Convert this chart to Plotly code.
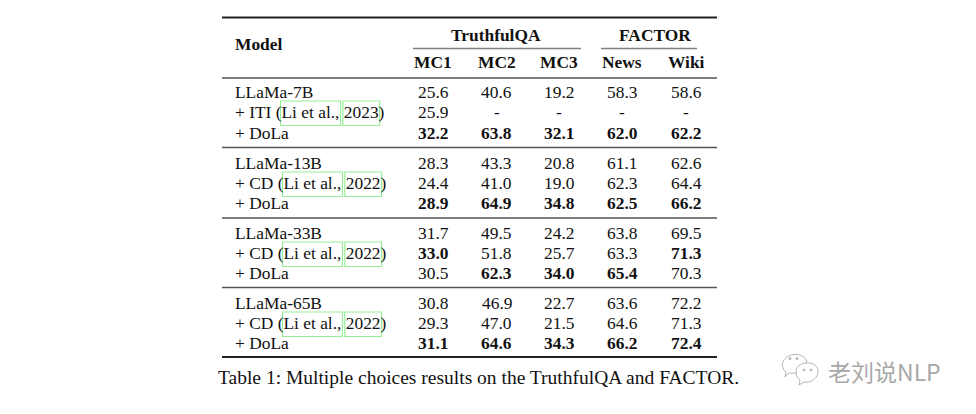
import plotly.graph_objects as go

# ---------------- data ----------------
row_labels = ["LLaMa-7B", "+ ITI (", "+ DoLa",
              "LLaMa-13B", "+ CD (", "+ DoLa",
              "LLaMa-33B", "+ CD (", "+ DoLa",
              "LLaMa-65B", "+ CD (", "+ DoLa"]
cite_years = [None, "2023", None,
              None, "2022", None,
              None, "2022", None,
              None, "2022", None]
cite_author = "Li et al.,"
group_of_row = [0, 0, 0, 1, 1, 1, 2, 2, 2, 3, 3, 3]

columns = ["MC1", "MC2", "MC3", "News", "Wiki"]
mc1 = [25.6, 25.9, 32.2, 28.3, 24.4, 28.9, 31.7, 33.0, 30.5, 30.8, 29.3, 31.1]
mc2 = [40.6, None, 63.8, 43.3, 41.0, 64.9, 49.5, 51.8, 62.3, 46.9, 47.0, 64.6]
mc3 = [19.2, None, 32.1, 20.8, 19.0, 34.8, 24.2, 25.7, 34.0, 22.7, 21.5, 34.3]
news = [58.3, None, 62.0, 61.1, 62.3, 62.5, 63.8, 63.3, 65.4, 63.6, 64.6, 66.2]
wiki = [58.6, None, 62.2, 62.6, 64.4, 66.2, 69.5, 71.3, 70.3, 72.2, 71.3, 72.4]
super_headers = ["TruthfulQA", "FACTOR"]
caption = "Table 1: Multiple choices results on the TruthfulQA and FACTOR."
watermark = "老刘说NLP"

# ---------------- layout constants ----------------
W, H = 976, 414
OFF = 8            # default page body margin
FONT = "Liberation Serif"
FS = 17.4
BLACK = "#111111"
PAD = 2            # annotation inner padding
x_left, x_right = 222, 717
x_label = 235
col_x = [433, 496.5, 559, 622, 686]
row_y = [92, 112, 132.5, 163, 183, 203, 233, 253, 273, 303, 323, 342.5]

# Times metrics (Liberation Serif is metric compatible)
TW = {" ": 250, "+": 564, "(": 333, ")": 333, "I": 333, "T": 611, "C": 667, "D": 722,
      "L": 611, "i": 278, "e": 444, "t": 278, "a": 444, "l": 278, ".": 250, ",": 250,
      "0": 500, "1": 500, "2": 500, "3": 500}


def tw(s, size=FS):
    return sum(TW.get(c, 500) for c in s) * size / 1000.0


fig = go.Figure()
fig.add_trace(go.Scatter(x=[OFF, W], y=[OFF, H], mode="markers", marker=dict(opacity=0),
                         hoverinfo="skip", showlegend=False))

ann = []


def txt(x, y, s, anchor="center", size=FS, color=BLACK, family=FONT):
    if anchor == "left":
        x -= PAD
    elif anchor == "right":
        x += PAD
    ann.append(dict(x=x, y=y, text=s, showarrow=False, xanchor=anchor, yanchor="middle",
                    font=dict(family=family, size=size, color=color), xref="x", yref="y"))


# headers
txt(x_label, 43.5, "<b>Model</b>", anchor="left")
txt((col_x[0] + col_x[2]) / 2, 35, "<b>%s</b>" % super_headers[0])
txt((col_x[3] + col_x[4]) / 2 + 1, 35, "<b>%s</b>" % super_headers[1])
for cx, name in zip(col_x, columns):
    txt(cx, 62, "<b>%s</b>" % name)

# body
series = [mc1, mc2, mc3, news, wiki]
shapes = []
for r, label in enumerate(row_labels):
    y = row_y[r]
    if cite_years[r] is None:
        txt(x_label, y, label, anchor="left")
    else:
        year = cite_years[r]
        full = label + cite_author + " " + year + ")"
        txt(x_label, y, full, anchor="left")
        a0 = x_label + tw(label)
        a1 = a0 + tw(cite_author)
        b0 = a1 + tw(" ")
        b1 = b0 + tw(year)
        for (u0, u1) in [(a0, a1), (b0, b1)]:
            shapes.append(dict(type="rect", xref="x", yref="y", x0=u0 - 1, x1=u1 + 1,
                               y0=y - 11, y1=y + 13.5,
                               line=dict(color="#98ee98", width=1.2), fillcolor="rgba(0,0,0,0)"))
    g = group_of_row[r]
    for c, vals in enumerate(series):
        v = vals[r]
        if v is None:
            txt(col_x[c], y, "-")
            continue
        grp = [vals[i] for i in range(len(vals)) if group_of_row[i] == g and vals[i] is not None]
        s = "%.1f" % v
        if v == max(grp):
            s = "<b>%s</b>" % s
        txt(col_x[c], y, s)

# caption
txt(739, 377, caption, anchor="right", size=19.5)

# watermark text
txt(828, 371, watermark, anchor="left", size=23, color="#a8a8a8", family="Noto Sans CJK SC")


# rules
def hline(y, x0, x1, w, color):
    shapes.append(dict(type="line", xref="x", yref="y", x0=x0, x1=x1, y0=y, y1=y,
                       line=dict(color=color, width=w)))


hline(17.5, x_left, x_right, 2.2, "#222222")
hline(48.5, 413, 581, 1.3, "#808080")
hline(48.5, 601, 697, 1.3, "#808080")
hline(78, x_left, x_right, 1.3, "#555555")
for yy in [147.5, 218, 287.5]:
    hline(yy, x_left, x_right, 1.3, "#555555")
hline(357, x_left, x_right, 2.2, "#222222")

# watermark icon (two speech bubbles)
ic = "#b4b4b4"
shapes.append(dict(type="path", xref="x", yref="y",
                   path="M 786 372 C 780 368 781 356 794 354.5 C 806 354 809 362 805 368 "
                        "C 802 372 795 374 789 373 L 785 377 Z",
                   line=dict(color=ic, width=1), fillcolor="white"))
shapes.append(dict(type="path", xref="x", yref="y",
                   path="M 796 372 C 796 364 804 363 808 363 C 816 363 819 369 818 373 "
                        "C 817 379 810 383 804 382 L 799 385 L 800 380 C 797 378 796 375 796 372 Z",
                   line=dict(color=ic, width=1), fillcolor="white"))
for (ex, ey) in [(790, 358.5), (797, 358.5), (804, 370), (811, 370)]:
    shapes.append(dict(type="circle", xref="x", yref="y", x0=ex - 1, x1=ex + 1, y0=ey - 1, y1=ey + 1,
                       line=dict(color=ic, width=1), fillcolor=ic))

fig.update_layout(
    width=W - OFF, height=H - OFF, margin=dict(l=0, r=0, t=0, b=0),
    paper_bgcolor="white", plot_bgcolor="white",
    xaxis=dict(range=[OFF, W], visible=False, fixedrange=True),
    yaxis=dict(range=[H, OFF], visible=False, fixedrange=True),
    annotations=ann, shapes=shapes, showlegend=False,
)
fig.write_html("out.html")
